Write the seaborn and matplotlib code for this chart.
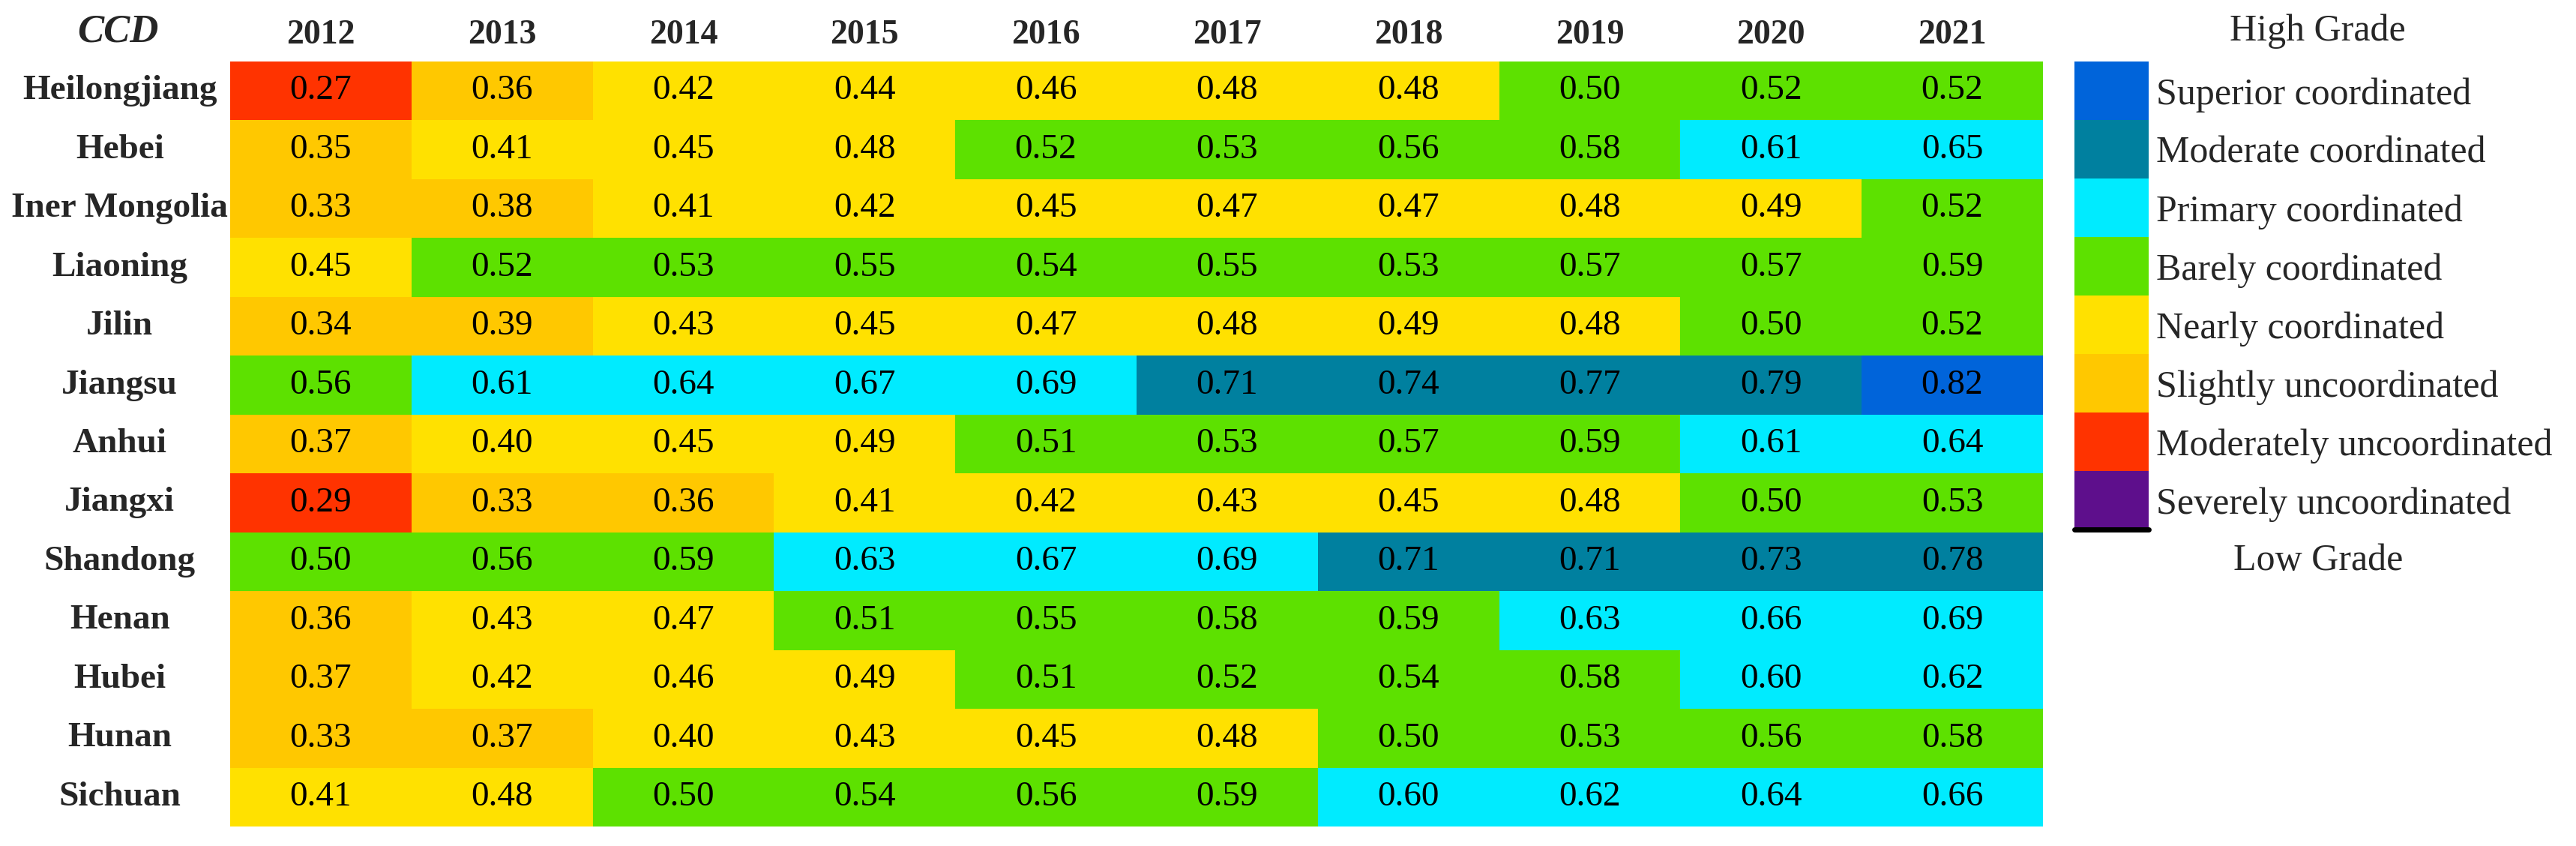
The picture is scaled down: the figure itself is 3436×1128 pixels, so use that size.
import numpy as np
import pandas as pd
import matplotlib
matplotlib.use("Agg")
import matplotlib.pyplot as plt
from matplotlib.colors import ListedColormap, BoundaryNorm
import seaborn as sns

sns.set_theme(style="white")
plt.rcParams['font.family'] = ['Liberation Serif', 'DejaVu Serif']

years = ["2012", "2013", "2014", "2015", "2016", "2017", "2018", "2019", "2020", "2021"]
provinces = ["Heilongjiang", "Hebei", "Iner Mongolia", "Liaoning", "Jilin", "Jiangsu", "Anhui",
             "Jiangxi", "Shandong", "Henan", "Hubei", "Hunan", "Sichuan"]

heilongjiang = [0.27, 0.36, 0.42, 0.44, 0.46, 0.48, 0.48, 0.50, 0.52, 0.52]
hebei        = [0.35, 0.41, 0.45, 0.48, 0.52, 0.53, 0.56, 0.58, 0.61, 0.65]
inner_mong   = [0.33, 0.38, 0.41, 0.42, 0.45, 0.47, 0.47, 0.48, 0.49, 0.52]
liaoning     = [0.45, 0.52, 0.53, 0.55, 0.54, 0.55, 0.53, 0.57, 0.57, 0.59]
jilin        = [0.34, 0.39, 0.43, 0.45, 0.47, 0.48, 0.49, 0.48, 0.50, 0.52]
jiangsu      = [0.56, 0.61, 0.64, 0.67, 0.69, 0.71, 0.74, 0.77, 0.79, 0.82]
anhui        = [0.37, 0.40, 0.45, 0.49, 0.51, 0.53, 0.57, 0.59, 0.61, 0.64]
jiangxi      = [0.29, 0.33, 0.36, 0.41, 0.42, 0.43, 0.45, 0.48, 0.50, 0.53]
shandong     = [0.50, 0.56, 0.59, 0.63, 0.67, 0.69, 0.71, 0.71, 0.73, 0.78]
henan        = [0.36, 0.43, 0.47, 0.51, 0.55, 0.58, 0.59, 0.63, 0.66, 0.69]
hubei        = [0.37, 0.42, 0.46, 0.49, 0.51, 0.52, 0.54, 0.58, 0.60, 0.62]
hunan        = [0.33, 0.37, 0.40, 0.43, 0.45, 0.48, 0.50, 0.53, 0.56, 0.58]
sichuan      = [0.41, 0.48, 0.50, 0.54, 0.56, 0.59, 0.60, 0.62, 0.64, 0.66]

grade_names = ["Superior coordinated", "Moderate coordinated", "Primary coordinated",
               "Barely coordinated", "Nearly coordinated", "Slightly uncoordinated",
               "Moderately uncoordinated", "Severely uncoordinated"]
# low -> high
grade_bounds = [0.0, 0.2, 0.3, 0.4, 0.5, 0.6, 0.7, 0.8, 1.0]
grade_colors = ["#5E0F8C", "#FF3300", "#FFC800", "#FFE100", "#5DE100", "#00EBFF", "#00809F", "#0064DA"]

data = pd.DataFrame([heilongjiang, hebei, inner_mong, liaoning, jilin, jiangsu, anhui,
                     jiangxi, shandong, henan, hubei, hunan, sichuan],
                    index=provinces, columns=years)

cmap = ListedColormap(grade_colors)
norm = BoundaryNorm(grade_bounds, cmap.N)

W, H = 3437, 1128
fig = plt.figure(figsize=(W / 100, H / 100), dpi=100)

def px_axes(x0, y0, x1, y1):
    return fig.add_axes([x0 / W, 1 - y1 / H, (x1 - x0) / W, (y1 - y0) / H])

ax = px_axes(307, 82, 2725, 1102)
sns.heatmap(data, ax=ax, cmap=cmap, norm=norm, annot=True, fmt=".2f", cbar=False,
            annot_kws={"fontsize": 34, "color": "black", "family": "Liberation Serif"},
            linewidths=0)
ax.xaxis.tick_top()
ax.tick_params(axis='x', length=0, pad=10)
ax.tick_params(axis='y', length=0, pad=106)
ax.set_xticklabels(years, fontsize=33, fontweight='bold', rotation=0)
ax.set_yticklabels(provinces, fontsize=34, fontweight='bold', rotation=0, ha='center')
ax.set_xlabel("")
ax.set_ylabel("")
fig.text(157 / W, 1 - 42 / H, "CCD", fontsize=38, fontweight='bold', fontstyle='italic',
         ha='center', va='center')

# legend as a vertical heatmap of grades (high at top)
lax = px_axes(2767, 82, 2866, 706)
leg_vals = pd.DataFrame({"g": [0.9, 0.75, 0.65, 0.55, 0.45, 0.35, 0.25, 0.1]}, index=grade_names)
sns.heatmap(leg_vals, ax=lax, cmap=cmap, norm=norm, cbar=False, annot=False, linewidths=0)
lax.set_xticks([])
lax.yaxis.tick_right()
lax.tick_params(axis='y', length=0, pad=7)
lax.set_yticklabels(grade_names, fontsize=36, rotation=0, ha='left')
lax.set_xlabel("")
lax.set_ylabel("")
lax.axhline(len(grade_names), color='black', lw=5, clip_on=False)

fig.text(3091 / W, 1 - 42 / H, "High Grade", fontsize=36, ha='center', va='center')
fig.text(3092 / W, 1 - 748 / H, "Low Grade", fontsize=36, ha='center', va='center')

fig.savefig("out.png", dpi=100, facecolor='white')
